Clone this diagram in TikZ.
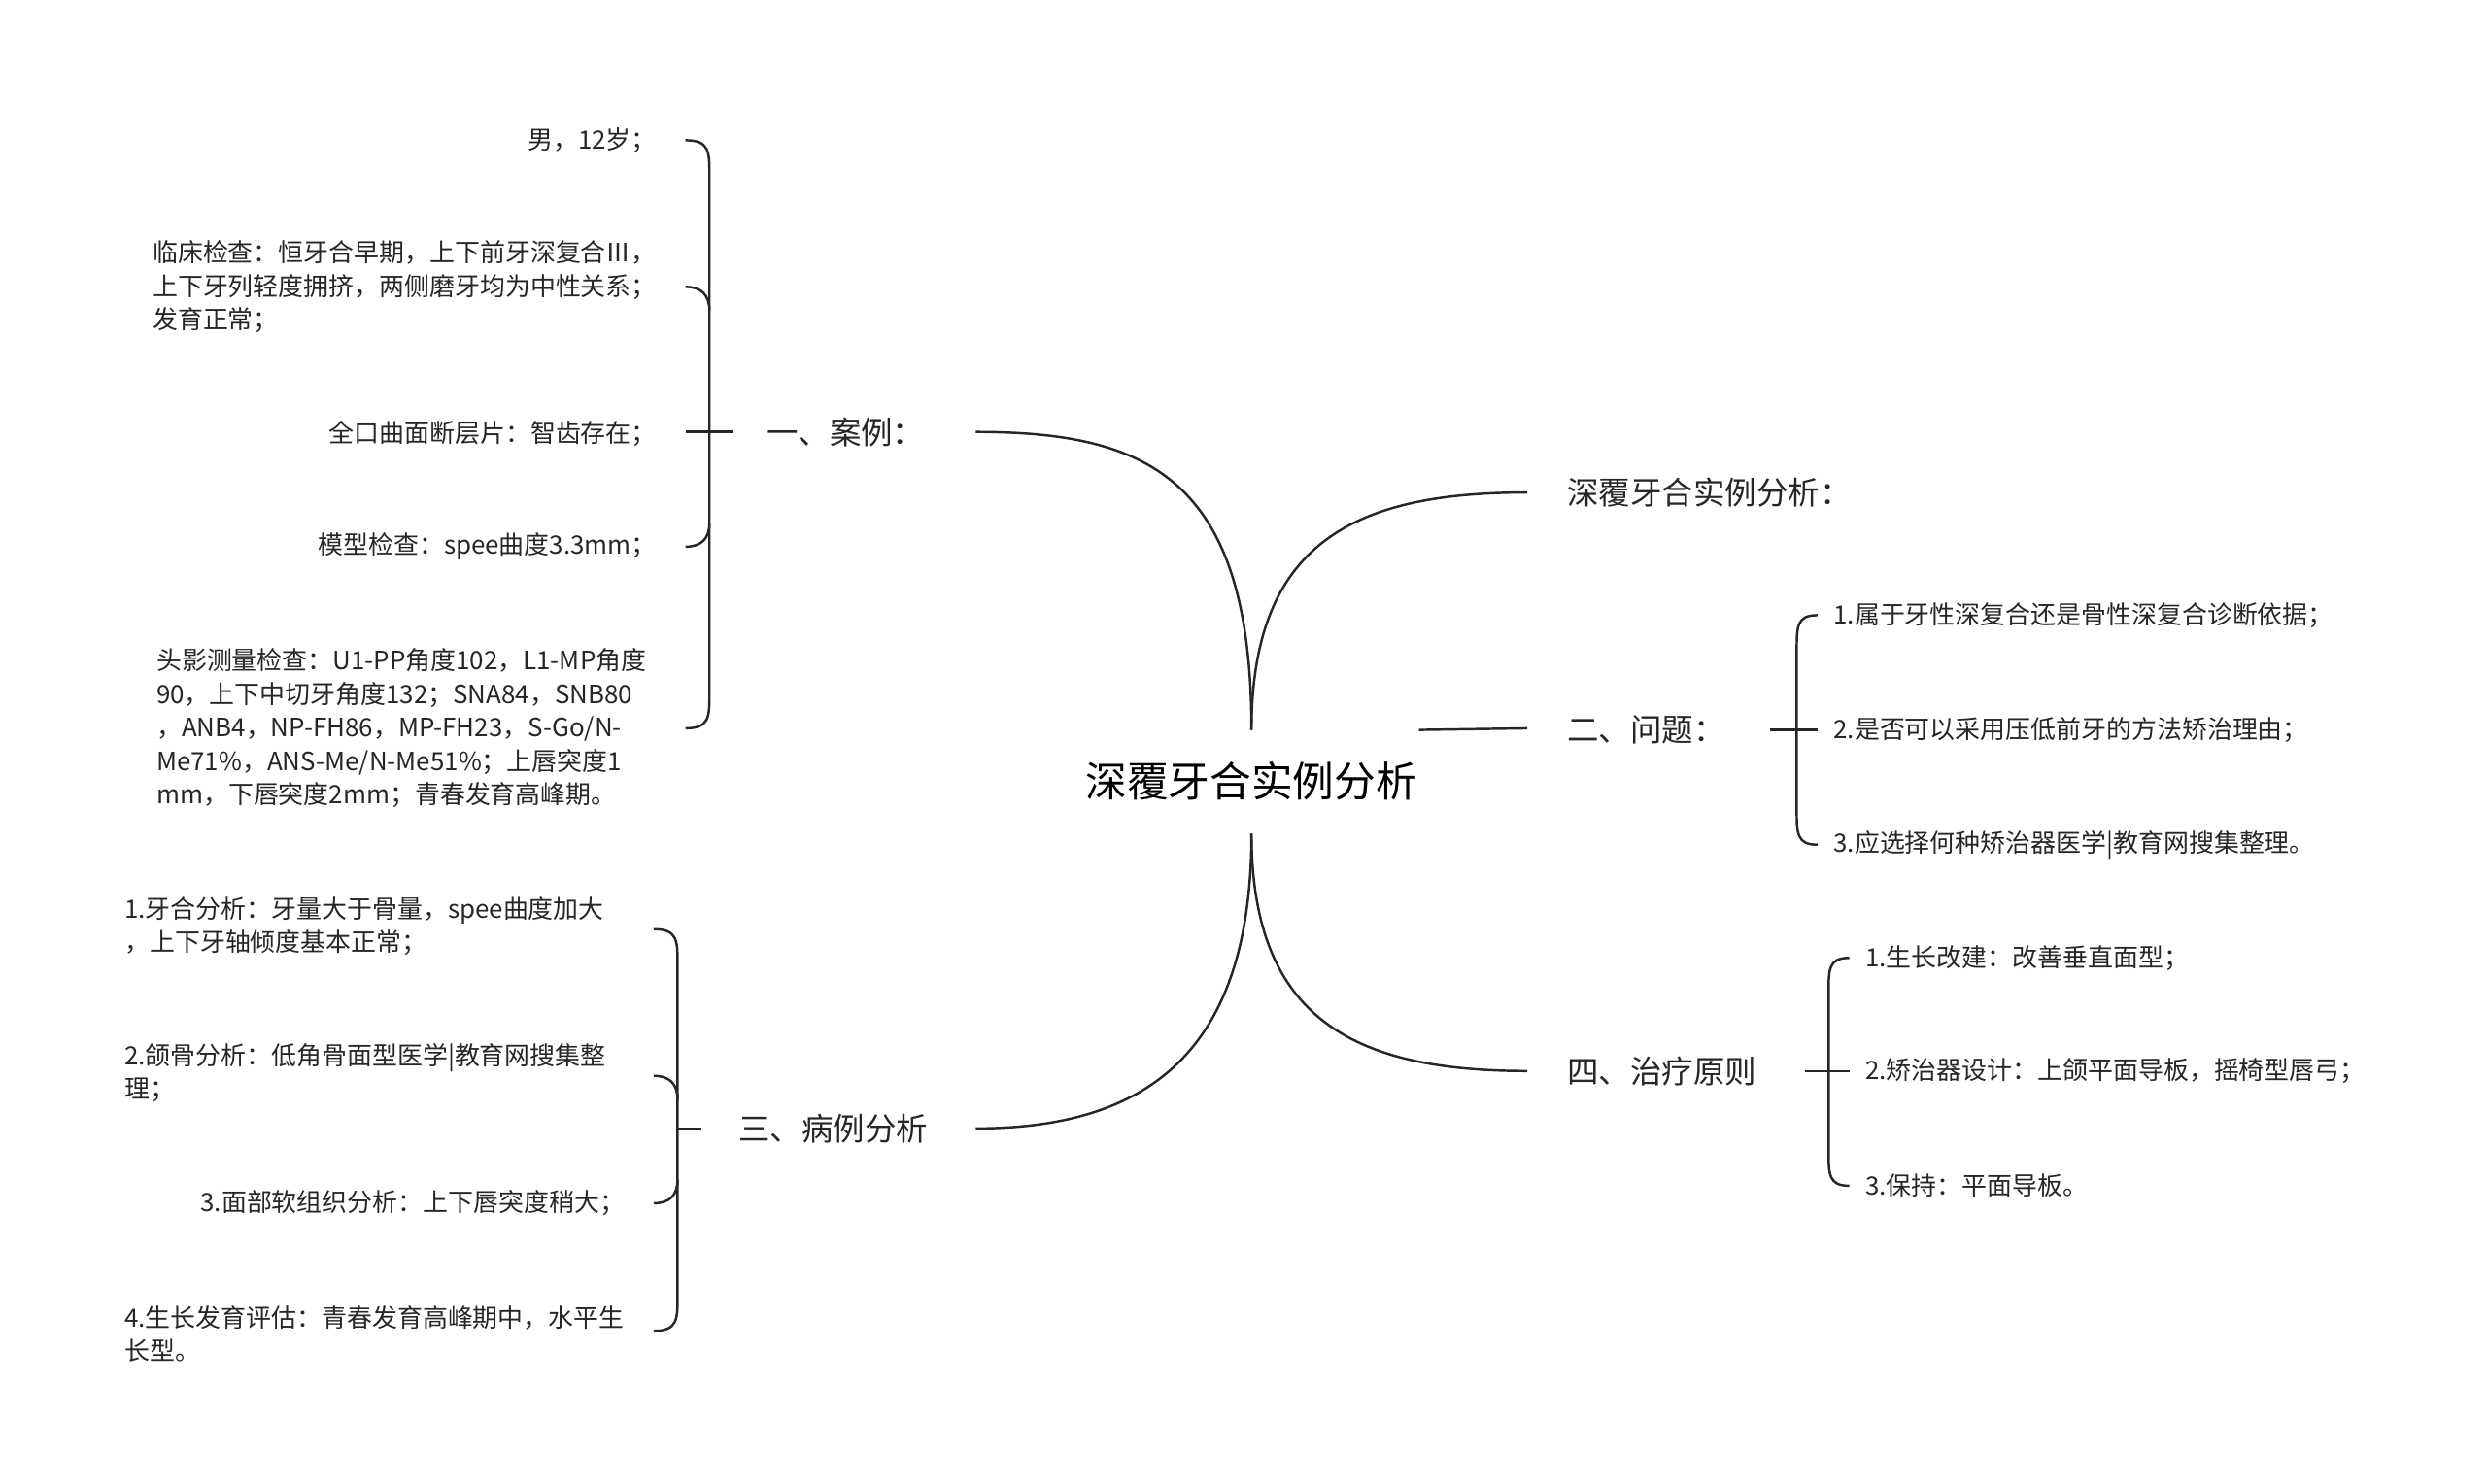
\documentclass[tikz,border=0pt]{standalone}
\usepackage{fontspec}
\setmainfont{Noto Sans CJK SC}
\begin{document}
\begin{tikzpicture}[x=1pt,y=-1pt,
  leaf/.style={font=\fontsize{15.8}{21}\selectfont,inner sep=0pt,text=black!85},
  lbl/.style={font=\fontsize{19.8}{22}\selectfont,inner sep=0pt,text=black!85},
  ln/.style={draw=black!85,line width=1.5pt}]
\useasboundingbox (0,0) rectangle (1560,930.6);
\node[font=\fontsize{26}{28}\selectfont,inner sep=0pt] (c) at (785,490) {深覆牙合实例分析};
\coordinate (ct) at (785,458);
\coordinate (cb) at (785,523);
% main branches
\coordinate (e1) at (612,271);
\coordinate (e2) at (958,309);
\coordinate (e3) at (612,708);
\coordinate (e4) at (958,672);
\coordinate (e5a) at (890,458);
\coordinate (e5) at (958,457);
\draw[ln] (ct) .. controls (785,300) and (720,271) .. (e1);
\draw[ln] (ct) .. controls (785,340) and (850,309) .. (e2);
\draw[ln] (cb) .. controls (785,660) and (720,708) .. (e3);
\draw[ln] (cb) .. controls (785,640) and (850,672) .. (e4);
\draw[ln] (e5a) -- (e5);
\node[lbl,anchor=east] (b1) at (580,271) {一、案例：};
\node[lbl,anchor=west] (b2) at (983,309) {深覆牙合实例分析：};
\node[lbl,anchor=west] (b5) at (983,458) {二、问题：};
\node[lbl,anchor=west] (b3) at (463,708) {三、病例分析};
\node[lbl,anchor=west] (b4) at (983,672) {四、治疗原则};
% branch 1 brace
\draw[ln] (430,88) .. controls (445,88) and (445,95) .. (445,110) -- (445,435) .. controls (445,450) and (445,457) .. (430,457);
\draw[ln] (430,180) .. controls (440,180) and (445,185) .. (445,195);
\draw[ln] (430,343) .. controls (440,343) and (445,338) .. (445,328);
\draw[ln] (430,271) -- (460,271);
\node[leaf,anchor=east] (l1) at (412,88) {男，12岁；};
\node[leaf,anchor=east,align=left] (l2) at (412,180) {临床检查：恒牙合早期，上下前牙深复合Ⅲ，\\上下牙列轻度拥挤，两侧磨牙均为中性关系；\\发育正常；};
\node[leaf,anchor=east] (l3) at (412,272) {全口曲面断层片：智齿存在；};
\node[leaf,anchor=east] (l4) at (412,343) {模型检查：spee曲度3.3mm；};
\node[leaf,anchor=west,align=left] (l5) at (98,457) {头影测量检查：U1-PP角度102，L1-MP角度\\90，上下中切牙角度132；SNA84，SNB80\\，ANB4，NP-FH86，MP-FH23，S-Go/N-\\Me71\%，ANS-Me/N-Me51\%；上唇突度1\\mm，下唇突度2mm；青春发育高峰期。};
% branch 3 brace
\draw[ln] (410,583) .. controls (425,583) and (425,590) .. (425,605) -- (425,813) .. controls (425,828) and (425,835) .. (410,835);
\draw[ln] (410,675) .. controls (420,675) and (425,680) .. (425,690);
\draw[ln] (410,755) .. controls (420,755) and (425,750) .. (425,740);
\draw[ln] (425,708) -- (440,708);
\node[leaf,anchor=west,align=left] (m1) at (78,581) {1.牙合分析：牙量大于骨量，spee曲度加大\\，上下牙轴倾度基本正常；};
\node[leaf,anchor=west,align=left] (m2) at (78,673) {2.颌骨分析：低角骨面型医学|教育网搜集整\\理；};
\node[leaf,anchor=east] (m3) at (392,755) {3.面部软组织分析：上下唇突度稍大；};
\node[leaf,anchor=west,align=left] (m4) at (78,837) {4.生长发育评估：青春发育高峰期中，水平生\\长型。};
% branch 2 brace
\draw[ln] (1140,386) .. controls (1127,386) and (1127,393) .. (1127,408) -- (1127,508) .. controls (1127,523) and (1127,530) .. (1140,530);
\draw[ln] (1110,458) -- (1140,458);
\node[leaf,anchor=west] (q1) at (1150,386) {1.属于牙性深复合还是骨性深复合诊断依据；};
\node[leaf,anchor=west] (q2) at (1150,458) {2.是否可以采用压低前牙的方法矫治理由；};
\node[leaf,anchor=west] (q3) at (1150,530) {3.应选择何种矫治器医学|教育网搜集整理。};
% branch 4 brace
\draw[ln] (1160,601) .. controls (1147,601) and (1147,608) .. (1147,623) -- (1147,722) .. controls (1147,737) and (1147,744) .. (1160,744);
\draw[ln] (1132,672) -- (1160,672);
\node[leaf,anchor=west] (t1) at (1170,601) {1.生长改建：改善垂直面型；};
\node[leaf,anchor=west] (t2) at (1170,672) {2.矫治器设计：上颌平面导板，摇椅型唇弓；};
\node[leaf,anchor=west] (t3) at (1170,744) {3.保持：平面导板。};
\end{tikzpicture}
\end{document}
